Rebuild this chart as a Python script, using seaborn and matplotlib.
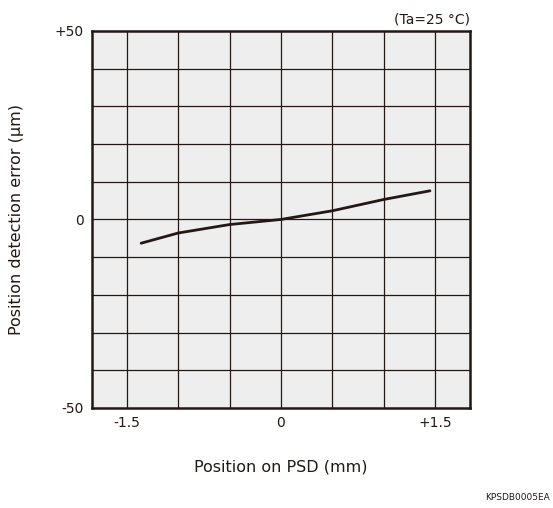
import matplotlib
matplotlib.use("Agg")
from matplotlib import pyplot as plt
import pandas as pd
import seaborn as sns

position_mm = [-1.36, -1.0, -0.5, 0.0, 0.5, 1.0, 1.45]
error_um = [-6.3, -3.6, -1.35, 0.0, 2.3, 5.3, 7.6]

x_grid = [-1.5, -1.0, -0.5, 0.0, 0.5, 1.0, 1.5]
y_grid = [-40, -30, -20, -10, 0, 10, 20, 30, 40]
x_ticks = [-1.5, 0, 1.5]
x_ticklabels = ["-1.5", "0", "+1.5"]
y_ticks = [-50, 0, 50]
y_ticklabels = ["-50", "0", "+50"]

data = pd.DataFrame({"Position": position_mm, "Error": error_um})

sns.set_style("white")
plt.rcParams['font.family'] = ['DejaVu Sans']

fig = plt.figure(figsize=(5.53, 5.08), dpi=100)
ax = fig.add_axes([0.166, 0.197, 0.684, 0.742])
ax.set_facecolor("#eeeeee")

# -----------------------------

for gx in x_grid:
    ax.axvline(gx, color="#231815", lw=0.9, zorder=1)
for gy in y_grid:
    ax.axhline(gy, color="#231815", lw=0.9, zorder=1)

g = sns.lineplot(
            x='Position',
            y='Error',
            data=data,
            color="#231815",
            linewidth=2.0,
            ax=ax,
            zorder=3,
            )

ax.set_xlim(-1.84, 1.84)
ax.set_ylim(-50, 50)
ax.set_xticks(x_ticks)
ax.set_xticklabels(x_ticklabels)
ax.set_yticks(y_ticks)
ax.set_yticklabels(y_ticklabels)
ax.tick_params(axis='both', length=0, labelsize=10, colors="#231815", pad=6)
for s in ax.spines.values():
    s.set_color("#231815")
    s.set_linewidth(1.8)

ax.set_xlabel("Position on PSD (mm)", fontsize=11.5, color="#231815", labelpad=21)
ax.set_ylabel("Position detection error (µm)", fontsize=11.5, color="#231815", labelpad=22)
ax.text(1.0, 1.012, "(Ta=25 °C)", transform=ax.transAxes, ha="right", va="bottom",
        fontsize=10, color="#231815")
fig.text(0.995, 0.012, "KPSDB0005EA", ha="right", va="bottom", fontsize=6.5, color="#231815")

plt.savefig("out.png", dpi=100)
plt.close()
